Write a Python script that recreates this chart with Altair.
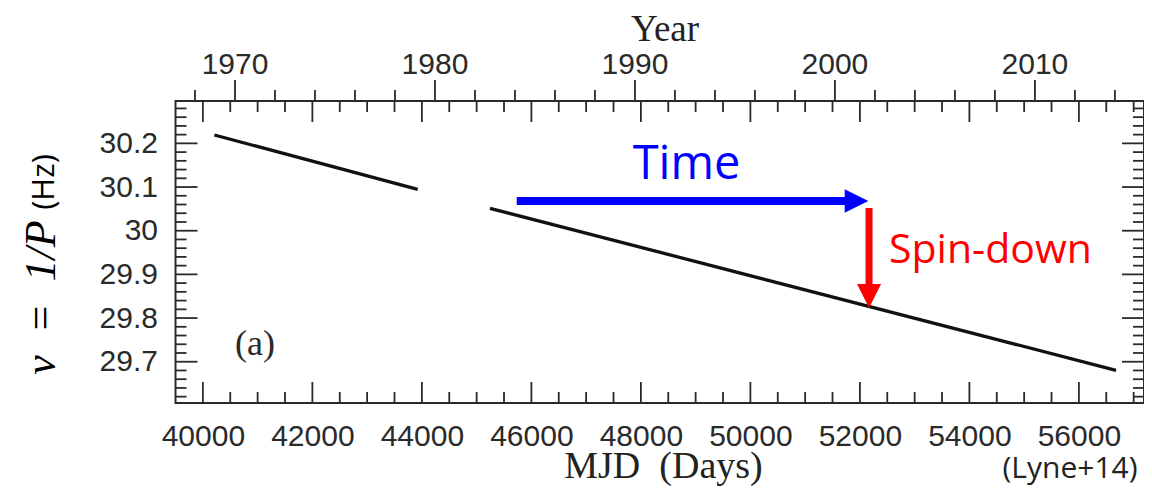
import altair as alt
import pandas as pd

# ---- data ----
SEGMENT = ["A", "A", "B", "B"]
MJD = [40209, 43924, 45244, 56678]
NU = [30.2192, 30.0948, 30.0513, 29.6804]

# ---- tick values ----
MJD_MAJOR = [40000, 42000, 44000, 46000, 48000, 50000, 52000, 54000, 56000]
MJD_MINOR = [v for v in range(40500, 57001, 500) if v % 2000 != 0]
NU_MAJOR = [29.7, 29.8, 29.9, 30.0, 30.1, 30.2]
NU_MINOR = [round(29.62 + 0.02 * i, 2) for i in range(34) if round((29.62 + 0.02 * i) * 10, 3) % 1 != 0]
YEAR_MAJOR = [1970, 1980, 1990, 2000, 2010]
YEAR_MINOR = [1968, 1972, 1974, 1976, 1978, 1982, 1984, 1986, 1988, 1992, 1994,
              1996, 1998, 2002, 2004, 2006, 2008, 2012, 2014]

# ---- annotations (data coordinates) ----
TIME_ARROW_MJD = [45732, 51800]
TIME_ARROW_NU = 30.068
TIME_HEAD_MJD = 51938
SPIN_ARROW_MJD = 52167
SPIN_ARROW_NU = [30.052, 29.86]
SPIN_HEAD_NU = 29.8505

W, H = 968.5, 302
INK = "#2a2a2a"
NB = "\u00a0"


def mjd_of_year(y):
    return pd.Timestamp(f"{y}-01-01").to_julian_date() - 2400000.5


xscale = alt.Scale(domain=[39500, 57189], nice=False, zero=False)
yscale = alt.Scale(domain=[29.6055, 30.297], nice=False, zero=False)
xaxis = alt.Axis(values=MJD_MAJOR, format="d", title=None, ticks=False, domain=False,
                 grid=False, labelFont="Liberation Sans", labelFontSize=30,
                 labelColor=INK, labelPadding=18)
yaxis = alt.Axis(values=NU_MAJOR, format="~g", title=None, ticks=False, domain=False,
                 grid=False, labelFont="Liberation Sans", labelFontSize=30,
                 labelColor=INK, labelPadding=18)
X = alt.X("mjd:Q", scale=xscale, axis=xaxis)
Y = alt.Y("nu:Q", scale=yscale, axis=yaxis)

line_df = pd.DataFrame({"seg": SEGMENT, "mjd": MJD, "nu": NU})
mjd_major_df = pd.DataFrame({"mjd": MJD_MAJOR})
mjd_minor_df = pd.DataFrame({"mjd": MJD_MINOR})
nu_major_df = pd.DataFrame({"nu": NU_MAJOR})
nu_minor_df = pd.DataFrame({"nu": NU_MINOR})
yr_major_df = pd.DataFrame({"mjd": [mjd_of_year(y) for y in YEAR_MAJOR],
                            "label": [str(y) for y in YEAR_MAJOR]})
yr_minor_df = pd.DataFrame({"mjd": [mjd_of_year(y) for y in YEAR_MINOR]})

rule = dict(color=INK, strokeWidth=1.8)

layers = []
# data line
layers.append(alt.Chart(line_df).mark_line(color="#111111", strokeWidth=3.3)
              .encode(x=X, y=Y, detail="seg:N"))

# MJD ticks (bottom and top, inward)
for df, ln in ((mjd_major_df, 21), (mjd_minor_df, 11)):
    layers.append(alt.Chart(df).mark_rule(**rule).encode(
        x=X, y=alt.value(H), y2=alt.value(H - ln)))
    layers.append(alt.Chart(df).mark_rule(**rule).encode(
        x=X, y=alt.value(0), y2=alt.value(ln)))

# nu ticks (left and right, inward)
for df, ln in ((nu_major_df, 22), (nu_minor_df, 11)):
    layers.append(alt.Chart(df).mark_rule(**rule).encode(
        y=Y, x=alt.value(0), x2=alt.value(ln)))
    layers.append(alt.Chart(df).mark_rule(**rule).encode(
        y=Y, x=alt.value(W), x2=alt.value(W - ln)))

# year ticks (top, outward)
layers.append(alt.Chart(yr_major_df).mark_rule(**rule).encode(
    x=X, y=alt.value(0), y2=alt.value(-21)))
layers.append(alt.Chart(yr_minor_df).mark_rule(**rule).encode(
    x=X, y=alt.value(0), y2=alt.value(-11)))
layers.append(alt.Chart(yr_major_df).mark_text(
    font="Liberation Sans", fontSize=30, color=INK, align="center", baseline="alphabetic"
).encode(x=X, y=alt.value(-27), text="label:N"))

# Time arrow
layers.append(alt.Chart(pd.DataFrame({"mjd": [TIME_ARROW_MJD[0]], "mjd2": [TIME_ARROW_MJD[1]],
                                      "nu": [TIME_ARROW_NU]}))
              .mark_rule(color="#0000FF", strokeWidth=8)
              .encode(x=X, x2="mjd2:Q", y=Y))
layers.append(alt.Chart(pd.DataFrame({"mjd": [TIME_HEAD_MJD], "nu": [TIME_ARROW_NU]}))
              .mark_point(shape="M-1,-1L1,0L-1,1Z", filled=True, opacity=1,
                          color="#0000FF", size=560)
              .encode(x=X, y=Y))
# Spin-down arrow
layers.append(alt.Chart(pd.DataFrame({"mjd": [SPIN_ARROW_MJD], "nu": [SPIN_ARROW_NU[0]],
                                      "nu2": [SPIN_ARROW_NU[1]]}))
              .mark_rule(color="#FF0000", strokeWidth=7)
              .encode(x=X, y=Y, y2="nu2:Q"))
layers.append(alt.Chart(pd.DataFrame({"mjd": [SPIN_ARROW_MJD], "nu": [SPIN_HEAD_NU]}))
              .mark_point(shape="M-1,-1L1,-1L0,1Z", filled=True, opacity=1,
                          color="#FF0000", size=576)
              .encode(x=X, y=Y))

# in-plot texts
layers.append(alt.Chart(pd.DataFrame({"mjd": [48833], "nu": [30.1184], "t": ["Time"]}))
              .mark_text(font="Open Sans", fontSize=47, color="#0000FF",
                         align="center", baseline="alphabetic")
              .encode(x=X, y=Y, text="t:N"))
layers.append(alt.Chart(pd.DataFrame({"mjd": [52532], "nu": [29.926], "t": ["Spin-down"]}))
              .mark_text(font="Open Sans", fontSize=41, color="#FF0000",
                         align="left", baseline="alphabetic")
              .encode(x=X, y=Y, text="t:N"))
layers.append(alt.Chart(pd.DataFrame({"mjd": [40952], "nu": [29.7154], "t": ["(a)"]}))
              .mark_text(font="Liberation Serif", fontSize=36, color=INK,
                         align="center", baseline="alphabetic")
              .encode(x=X, y=Y, text="t:N"))


# titles outside the plot
def label(text, x, y, **kw):
    return alt.Chart(pd.DataFrame({"t": [text]})).mark_text(**kw).encode(
        x=alt.value(x), y=alt.value(y), text="t:N")


layers.append(label("Year", 489.5, -60, font="Liberation Serif", fontSize=37,
                    color="#222222", align="center", baseline="alphabetic"))
layers.append(label(f"MJD{NB}{NB}(Days)", 488, 377, font="Liberation Serif", fontSize=38,
                    color="#222222", align="center", baseline="alphabetic"))
layers.append(label("(Lyne+14)", 894.5, 377, font="Open Sans", fontSize=30,
                    color="#222222", align="center", baseline="alphabetic"))
layers.append(label(f"ν{NB}{NB}={NB}{NB}1/P", -120.5, 196.5, font="Liberation Serif", fontSize=44,
                    fontStyle="italic", color="#000000", align="center",
                    baseline="alphabetic", angle=270))
layers.append(label("(Hz)", -121.5, 81, font="Open Sans", fontSize=31,
                    color="#000000", align="center", baseline="alphabetic", angle=270))

chart = alt.layer(*layers).properties(
    width=W, height=H,
    padding={"left": 167.5, "top": 93, "right": 0, "bottom": 85},
    autosize=alt.AutoSizeParams(type="none"),
    background="white",
).configure_view(stroke=INK, strokeWidth=2)

chart.save("out.html", embed_options={"renderer": "svg", "actions": False})
